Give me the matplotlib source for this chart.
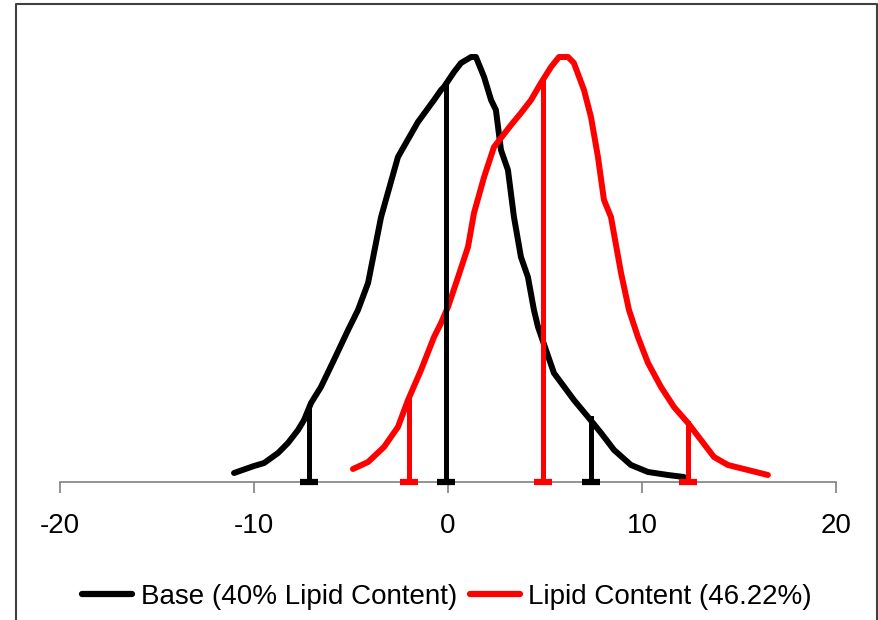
import matplotlib.pyplot as plt
from matplotlib.lines import Line2D

plt.rcParams['font.family'] = ['Liberation Sans', 'DejaVu Sans']
plt.rcParams['axes.unicode_minus'] = False

# Distribution curves (x value, relative frequency)
base_x = [-11.03, -10.0, -9.48, -8.76, -8.25, -7.73, -7.42, -7.06, -6.55, -5.88,
          -5.15, -4.64, -4.12, -3.45, -2.58, -1.55, -0.72, -0.36, -0.21, 0.31,
          0.67, 1.19, 1.44, 1.86, 2.22, 2.47, 2.73, 3.09, 3.40, 3.76,
          4.12, 4.43, 4.64, 5.46, 6.49, 7.22, 7.89, 8.56, 9.43, 10.31,
          11.34, 12.16]
base_y = [9, 16, 19, 29, 39, 52, 62, 79, 95, 122,
          152, 172, 199, 265, 325, 360, 382, 392, 395, 410,
          419, 425, 425, 405, 382, 372, 332, 312, 265, 225,
          205, 172, 155, 109, 82, 65, 49, 32, 17, 10,
          7, 5]

lipid_x = [-4.90, -4.12, -3.30, -2.58, -2.06, -1.39, -0.72, -0.36, 0.0, 0.52,
           1.03, 1.34, 1.86, 2.37, 3.25, 3.76, 4.28, 4.79, 5.31, 5.72,
           6.19, 6.49, 7.01, 7.37, 7.73, 8.04, 8.40, 8.92, 9.33, 9.79,
           10.31, 10.98, 11.65, 12.37, 13.04, 13.71, 14.43, 15.46, 16.49]
lipid_y = [13, 20, 35, 55, 82, 112, 145, 159, 175, 205,
           235, 269, 305, 335, 357, 369, 382, 399, 415, 425,
           425, 419, 392, 365, 325, 282, 265, 209, 172, 145,
           119, 95, 75, 59, 42, 25, 17, 12, 7]

# 5th percentile, mean, 95th percentile markers
base_marks_x = [-7.14, -0.1, 7.37]
base_marks_y = [75, 395, 64]
lipid_marks_x = [-2.0, 4.88, 12.35]
lipid_marks_y = [82, 400, 59]

fig = plt.figure(figsize=(8.79, 6.2), dpi=100)
ax = fig.add_axes([60 / 879, 138 / 620, 776 / 879, 462 / 620])

ax.plot(base_x, base_y, color='black', lw=4.3, solid_capstyle='round',
        solid_joinstyle='round', zorder=3)
ax.plot(lipid_x, lipid_y, color='red', lw=4.3, solid_capstyle='round',
        solid_joinstyle='round', zorder=3)

for xs, ys, c in [(base_marks_x, base_marks_y, 'black'),
                  (lipid_marks_x, lipid_marks_y, 'red')]:
    for x, y in zip(xs, ys):
        ax.plot([x, x], [0, y], color=c, lw=3.6, zorder=4)
        ax.plot([x], [0], marker='_', color=c, ms=13, mew=4.5,
                zorder=4, clip_on=False)

ax.set_xlim(-20, 20)
ax.set_ylim(0, 462)
ax.set_xticks([-20, -10, 0, 10, 20])
ax.set_yticks([])
for s in ['top', 'right', 'left']:
    ax.spines[s].set_visible(False)
ax.spines['bottom'].set_color('#808080')
ax.spines['bottom'].set_linewidth(1.2)
ax.tick_params(axis='x', direction='out', length=8, width=1.2, color='#808080',
               labelsize=20, pad=14)

handles = [Line2D([], [], color='black', lw=4.5, solid_capstyle='round'),
           Line2D([], [], color='red', lw=4.5, solid_capstyle='round')]
fig.legend(handles, ['Base (40% Lipid Content)', 'Lipid Content (46.22%)'],
           loc='center', bbox_to_anchor=(447 / 879, 23 / 620), ncol=2,
           frameon=False, fontsize=20, handlelength=1.8, handletextpad=0.3,
           columnspacing=0.45, borderpad=0.2)

# chart-area border (open at the bottom)
fig.add_artist(Line2D([16 / 879, 16 / 879, 877 / 879, 877 / 879],
                      [-0.05, 616 / 620, 616 / 620, -0.05],
                      transform=fig.transFigure, color='#404040', lw=1.5))

plt.savefig('out.png', dpi=100)
